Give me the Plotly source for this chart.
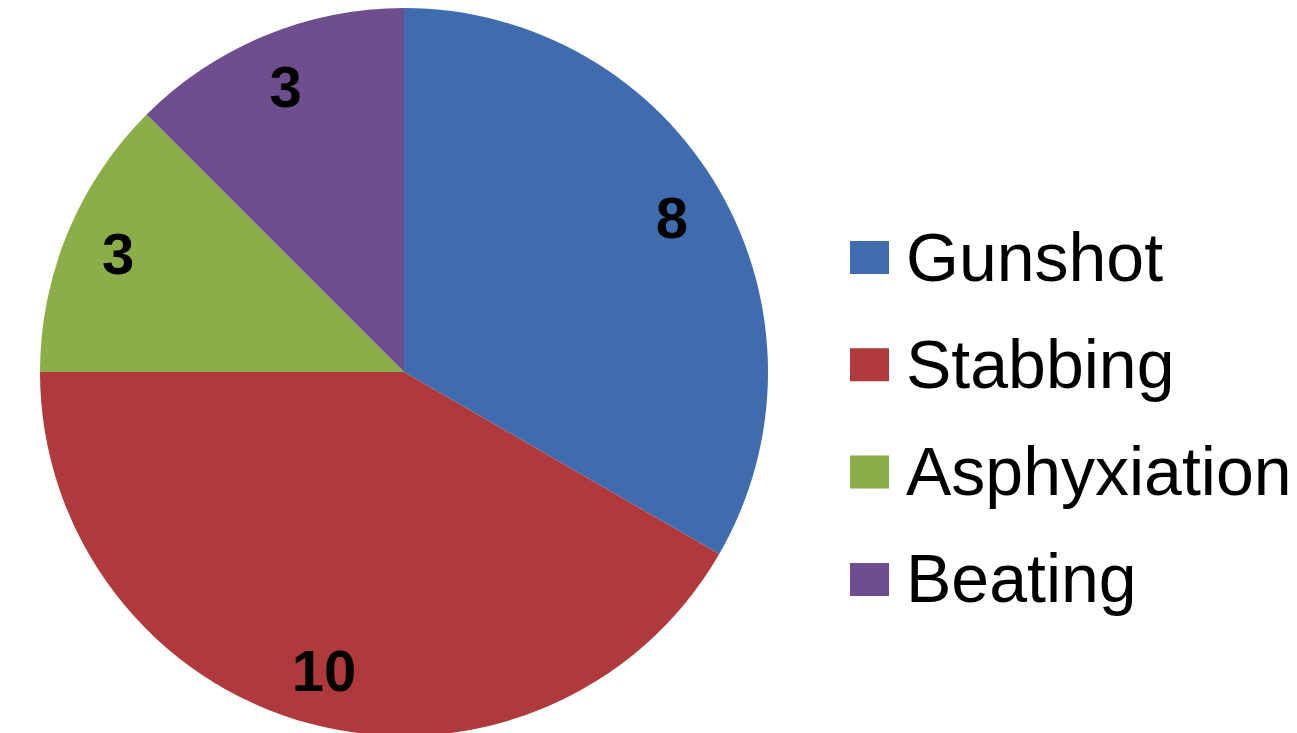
import plotly.graph_objects as go

categories = ["Gunshot", "Stabbing", "Asphyxiation", "Beating"]
counts = [8, 10, 3, 3]
colors = ["#3F6CAF", "#B0393B", "#8BAE48", "#6E4E8E"]

W, H = 1297, 733
OFF = 8  # page body margin
cx, cy, r = 404 - OFF, 372 - OFF, 364  # pixel centre (from top) and radius
dom_x = [(cx - r) / W, (cx + r) / W]
dom_y = [max(0, (H - cy - r) / H), min(1, (H - cy + r) / H)]

fig = go.Figure()
fig.add_trace(go.Pie(
    labels=categories, values=counts, sort=False, direction="clockwise",
    rotation=0, marker=dict(colors=colors, line=dict(width=0)),
    textinfo="none", hoverinfo="label+value", showlegend=False,
    domain=dict(x=dom_x, y=dom_y),
))
# transparent ring carrying the value labels near the rim
fig.add_trace(go.Pie(
    labels=categories, values=counts, sort=False, direction="clockwise",
    rotation=0, hole=0.70,
    marker=dict(colors=["rgba(0,0,0,0)"] * len(categories), line=dict(width=0)),
    texttemplate="<b>%{value}</b>", textposition="inside",
    insidetextorientation="horizontal",
    textfont=dict(family="Arial, Liberation Sans, sans-serif", size=58, color="black"),
    hoverinfo="skip", showlegend=False,
    domain=dict(x=dom_x, y=dom_y),
))

# legend drawn as squares + labels
row0, step = 257.5 - OFF, 107.3
for i, (cat, col) in enumerate(zip(categories, colors)):
    yc = row0 + i * step
    fig.add_shape(type="rect", xref="paper", yref="paper",
                  x0=(850 - OFF) / W, x1=(889 - OFF) / W,
                  y0=1 - (yc + 16.5) / H, y1=1 - (yc - 16.5) / H,
                  fillcolor=col, line=dict(width=0))
    fig.add_annotation(xref="paper", yref="paper", x=(904 - OFF) / W, y=1 - (yc - 1) / H,
                       xanchor="left", yanchor="middle", showarrow=False,
                       text=cat,
                       font=dict(family="Arial, Liberation Sans, sans-serif", size=68, color="black"))

fig.update_layout(
    width=W, height=H, margin=dict(l=0, r=0, t=0, b=0),
    paper_bgcolor="white", plot_bgcolor="white", showlegend=False,
)
fig.write_html("out.html")
